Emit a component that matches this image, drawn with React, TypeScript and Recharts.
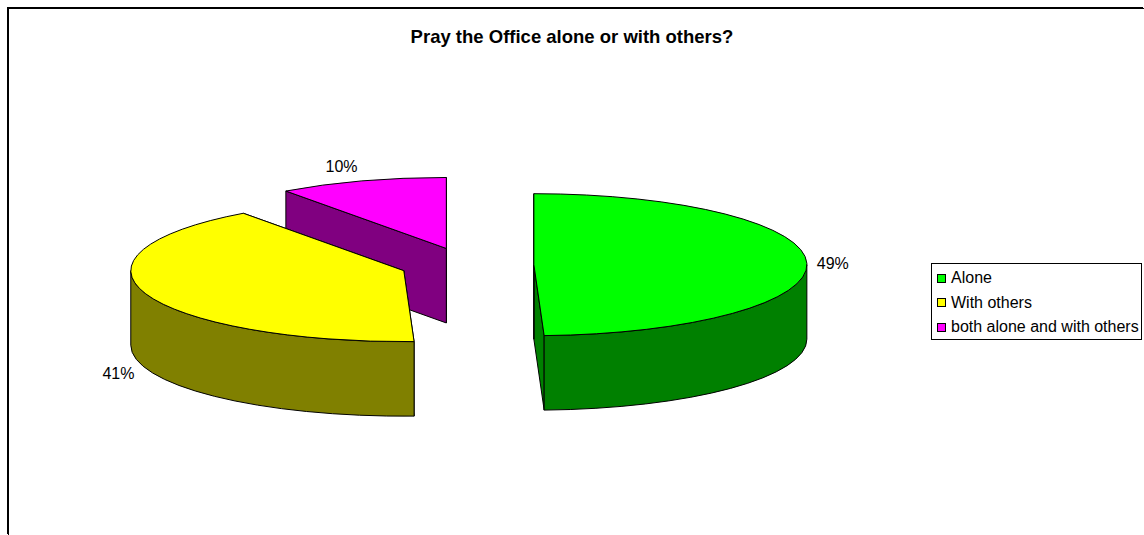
import React from "react";
import { PieChart, Pie, Legend } from "recharts";

const categories = ["Alone", "With others", "both alone and with others"];
const shares = [49.4, 40.6, 10];
const topColors = ["#00ff00", "#ffff00", "#ff00ff"];
const sideColors = ["#008000", "#808000", "#800080"];

// Drawn back-to-front so that the yellow slice covers the magenta wall.
const table = categories
  .map((name, i) => ({ name, value: shares[i], fill: topColors[i], side: sideColors[i] }))
  .reverse();

const SQUASH = 0.26;
const DEPTH = 74.5;
const EXPLODE = 0.245;
const FONT = "'Liberation Sans', Arial, sans-serif";
const rad = (d: number) => (d * Math.PI) / 180;

function project(p: any) {
  const rx = p.outerRadius;
  const ry = rx * SQUASH;
  const mid = rad(p.midAngle ?? (p.startAngle + p.endAngle) / 2);
  const ox = p.cx + rx * EXPLODE * Math.cos(mid);
  const oy = p.cy - ry * EXPLODE * Math.sin(mid);
  const at = (deg: number, dy = 0) => [
    ox + rx * Math.cos(rad(deg)),
    oy - ry * Math.sin(rad(deg)) + dy,
  ];
  return { rx, ry, ox, oy, at };
}

function Slice3D(props: any) {
  const { startAngle, endAngle, fill, payload } = props;
  const { rx, ry, ox, oy, at } = project(props);
  const side = payload.side;
  const pt = (a: number[]) => `${a[0].toFixed(2)} ${a[1].toFixed(2)}`;
  const wall = (deg: number) =>
    `M${ox} ${oy} L${pt(at(deg))} L${pt(at(deg, DEPTH))} L${ox} ${oy + DEPTH} Z`;

  // Part of the rim in the lower half of the ellipse
  const ranges: [number, number][] = [];
  for (const [lo, hi] of [[180, 360], [540, 720]]) {
    const a = Math.max(startAngle, lo);
    const b = Math.min(endAngle, hi);
    if (b > a) ranges.push([a, b]);
  }
  const rims = ranges.map(([a, b]) =>
    `M${pt(at(a))} A${rx} ${ry} 0 0 0 ${pt(at(b))} L${pt(at(b, DEPTH))} A${rx} ${ry} 0 0 1 ${pt(at(a, DEPTH))} Z`
  );
  const large = endAngle - startAngle > 180 ? 1 : 0;
  const top = `M${ox} ${oy} L${pt(at(startAngle))} A${rx} ${ry} 0 ${large} 0 ${pt(at(endAngle))} Z`;
  const line = { stroke: "#000", strokeWidth: 1, strokeLinejoin: "round" as const };
  return (
    <g>
      <path d={wall(startAngle)} fill={side} {...line} />
      <path d={wall(endAngle)} fill={side} {...line} />
      {rims.map((d, i) => (
        <path key={i} d={d} fill={side} {...line} />
      ))}
      <path d={top} fill={fill} {...line} />
    </g>
  );
}

function PercentLabel(props: any) {
  const { at } = project(props);
  const mid = props.midAngle;
  const c = Math.cos(rad(mid));
  const s = Math.sin(rad(mid));
  const [x, y] = at(mid, s < 0 ? DEPTH : 0);
  const dx = c > 0 ? 26 : -(17 + 11 * Math.abs(c));
  const dy = -15 * s;
  return (
    <text
      x={x + dx}
      y={y + dy}
      textAnchor="middle"
      dominantBaseline="central"
      fontFamily={FONT}
      fontSize={16}
      fill="#000"
    >
      {`${Math.round(props.percent * 100)}%`}
    </text>
  );
}

function LegendBox({ payload }: any) {
  const items = [...(payload ?? [])].sort(
    (a: any, b: any) => categories.indexOf(a.value) - categories.indexOf(b.value)
  );
  return (
    <div
      style={{
        border: "1px solid #000",
        background: "#fff",
        boxSizing: "border-box",
        width: 211,
        height: 77,
        padding: "2px 0 0 5px",
        fontFamily: FONT,
        fontSize: 16,
        color: "#000",
        whiteSpace: "nowrap",
      }}
    >
      {items.map((it: any) => (
        <div key={it.value} style={{ display: "flex", alignItems: "center", height: 24.5 }}>
          <span
            style={{
              display: "inline-block",
              boxSizing: "border-box",
              width: 9,
              height: 9,
              marginRight: 5,
              border: "1px solid #000",
              background: it.payload?.fill ?? it.color,
            }}
          />
          {it.value}
        </div>
      ))}
    </div>
  );
}

export default function App() {
  return (
    <div
      style={{
        position: "absolute",
        left: 8,
        top: 8,
        width: 1136,
        height: 527,
        overflow: "hidden",
        background: "#fff",
        boxShadow: "-1px -1px 0 #000, inset 1px 1px 0 #000",
      }}
    >
      <PieChart width={1136} height={527} margin={{ top: 0, right: 0, bottom: 0, left: 0 }}>
        <text
          x={564}
          y={28.5}
          textAnchor="middle"
          dominantBaseline="central"
          fontFamily={FONT}
          fontSize={18.5}
          fontWeight="bold"
          fill="#000"
        >
          Pray the Office alone or with others?
        </text>
        <Pie
          data={table}
          dataKey="value"
          nameKey="name"
          cx={459}
          cy={257}
          innerRadius={0}
          outerRadius={273}
          startAngle={90}
          endAngle={450}
          paddingAngle={0}
          isAnimationActive={false}
          shape={Slice3D}
          label={PercentLabel}
          labelLine={false}
        />
        <Legend
          content={LegendBox}
          layout="vertical"
          wrapperStyle={{ position: "absolute", left: 923, top: 255, width: 211, height: 77 }}
        />
      </PieChart>
    </div>
  );
}
